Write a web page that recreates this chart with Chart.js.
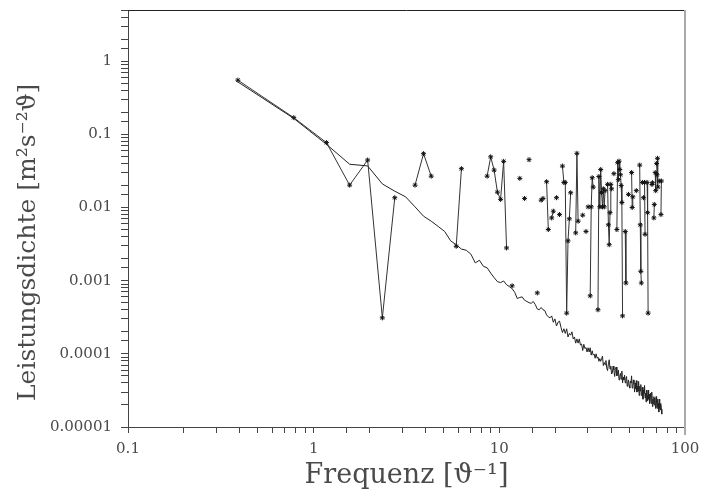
<!DOCTYPE html>
<html>
<head>
<meta charset="utf-8">
<script src="https://cdn.jsdelivr.net/npm/chart.js@4/dist/chart.umd.min.js"></script>
<style>
  html, body { margin: 0; padding: 0; background: #fff; }
  #wrap { width: 701px; height: 496px; }
</style>
</head>
<body>
<div id="wrap"><canvas id="spectrum"></canvas></div>
<script>
// frequency step of the spectrum (1/2.56)
const df = 0.390625;

// averaged spectrum (smooth line)
const spectrumMean = [
  0.52, 0.165, 0.073, 0.039, 0.037, 0.021, 0.0167, 0.014, 0.0102, 0.0076,
  0.0065, 0.0055, 0.0047, 0.0035, 0.0031, 0.0027, 0.0026, 0.0023, 0.00175, 0.0019,
  0.00157, 0.0015, 0.00127, 0.0011, 0.00097, 0.00094, 0.00099, 0.00088, 0.00083, 0.00078,
  0.00069, 0.00057, 0.00059, 0.0006, 0.00054, 0.00052, 0.0005, 0.00049, 0.00052, 0.00047,
  0.00041, 0.0004, 0.00043, 0.0004, 0.00039, 0.00034, 0.00032, 3.1e-4, 3.3e-4, 2.7e-4,
  3.0e-4, 2.4e-4, 2.7e-4, 2.8e-4, 2.3e-4, 1.95e-4, 2.2e-4, 1.9e-4, 2.2e-4, 1.7e-4,
  1.9e-4, 1.8e-4, 2.0e-4, 1.6e-4, 1.7e-4, 1.4e-4, 1.6e-4, 1.4e-4, 1.6e-4, 1.32e-4,
  1.36e-4, 1.11e-4, 1.35e-4, 1.18e-4, 1.22e-4, 1.06e-4, 1.21e-4, 1.06e-4, 1.21e-4, 9.6e-5,
  1.1e-4, 9.6e-5, 9.9e-5, 8.7e-5, 1.0e-4, 8.8e-5, 9.0e-5, 7.9e-5, 8.6e-5, 7.9e-5,
  8.6e-5, 9.3e-5, 6.9e-5, 7.6e-5, 7.1e-5, 8.1e-5, 6.4e-5, 5.9e-5, 7.3e-5, 8.3e-5,
  6.2e-5, 6.8e-5, 5.3e-5, 5.5e-5, 6.8e-5, 6.0e-5, 4.9e-5, 6.1e-5, 6.6e-5, 5.0e-5,
  5.2e-5, 6.0e-5, 4.4e-5, 4.9e-5, 5.4e-5, 4.5e-5, 5.8e-5, 4.0e-5, 4.8e-5, 4.4e-5,
  5.1e-5, 4.0e-5, 4.5e-5, 4.9e-5, 3.6e-5, 4.0e-5, 4.4e-5, 3.7e-5, 3.4e-5, 4.2e-5,
  4.0e-5, 5.0e-5, 3.4e-5, 3.6e-5, 4.4e-5, 3.9e-5, 3.0e-5, 4.0e-5, 3.3e-5, 4.3e-5,
  3.0e-5, 3.6e-5, 3.1e-5, 4.2e-5, 2.7e-5, 3.6e-5, 3.1e-5, 3.8e-5, 2.7e-5, 2.8e-5,
  3.5e-5, 2.4e-5, 3.2e-5, 2.9e-5, 3.7e-5, 2.5e-5, 2.9e-5, 2.2e-5, 3.2e-5, 2.7e-5,
  2.3e-5, 3.2e-5, 2.4e-5, 2.8e-5, 2.1e-5, 2.6e-5, 2.9e-5, 2.1e-5, 2.4e-5, 3.0e-5,
  1.9e-5, 2.4e-5, 2.1e-5, 2.6e-5, 2.0e-5, 2.5e-5, 2.0e-5, 1.8e-5, 2.6e-5, 2.1e-5,
  1.8e-5, 2.4e-5, 1.9e-5, 2.1e-5, 1.6e-5, 2.4e-5, 1.8e-5, 2.0e-5, 1.7e-5, 2.1e-5,
  1.75e-5, 1.5e-5
];

// single spectrum with gaps (star markers)
const spectrumObs = [
  0.55, 0.169, 0.077, 0.0202, 0.0445, 0.00031, 0.0136, null, 0.0202, 0.0544,
  0.0268, null, null, null, 0.00295, 0.0339, null, null, null, null,
  null, 0.0268, 0.0492, 0.0324, 0.0162, 0.0129, 0.0427, 0.0028, null, 0.00085,
  null, null, 0.025, null, 0.0133, null, 0.045, null, null, null,
  0.00068, null, 0.0126, 0.0133, null, 0.0225, 0.005, null, 0.0072, 0.0089,
  null, 0.0136, null, 0.008, null, 0.0368, 0.022, 0.022, 0.00036, 0.0035,
  0.007, 0.0159, null, null, null, 0.0045, 0.055, 0.0065, null, null,
  null, 0.00785, null, null, 0.0047, null, 0.0102, null, 0.00062, 0.0102,
  0.0255, 0.019, null, null, null, null, 0.0004, 0.0265, 0.0102, 0.033,
  0.016, 0.0102, 0.018, 0.0102, 0.017, null, null, 0.0207, 0.0058, 0.0031,
  0.0085, 0.0207, 0.018, null, null, 0.029, null, null, null, 0.005,
  0.041, 0.024, 0.043, 0.033, 0.028, 0.02, 0.0117, 0.00033, null, null,
  null, 0.0047, 0.00093, null, null, null, 0.0151, null, null, null,
  null, 0.030, 0.010, 0.014, null, null, null, null, null, 0.017,
  null, null, null, null, null, 0.038, 0.0058, 0.00134, 0.00093, null,
  0.022, null, 0.0136, null, 0.022, 0.0043, null, null, null, 0.022,
  0.0085, 0.00036, null, null, null, null, null, null, null, 0.0206,
  0.0218, null, null, 0.0072, 0.011, null, 0.030, 0.017, null, 0.040,
  0.028, 0.047, 0.019, null, null, 0.023, null, null, null, 0.008,
  0.023, null
];

const freq = spectrumMean.map((_, i) => (i + 1) * df);

const font = "'DejaVu Serif', 'Liberation Serif', serif";
const textColor = '#4a4a4a';

// label only the decades
function decadeLabel(v) {
  const e = Math.round(Math.log10(v));
  if (Math.abs(v / Math.pow(10, e) - 1) > 1e-6) return '';
  return e >= 0 ? String(Math.pow(10, e)) : Math.pow(10, e).toFixed(-e);
}

// top and right frame of the plot box
const frame = {
  id: 'frame',
  afterDraw(chart) {
    const { ctx, chartArea: a } = chart;
    ctx.save();
    ctx.strokeStyle = '#222';
    ctx.lineWidth = 1;
    ctx.beginPath();
    ctx.moveTo(a.left, a.top + 0.5);
    ctx.lineTo(a.right, a.top + 0.5);
    ctx.stroke();
    ctx.strokeStyle = '#aaa';
    ctx.lineWidth = 2;
    ctx.beginPath();
    ctx.moveTo(a.right, a.top);
    ctx.lineTo(a.right, a.bottom + 8);
    ctx.stroke();
    ctx.restore();
  }
};

const spectrumCanvas = document.querySelector('#spectrum');

new Chart(spectrumCanvas.getContext('2d'), {
  type: 'line',
  data: {
    labels: freq,
    datasets: [
      {
        label: 'Mittel',
        data: spectrumMean,
        borderColor: '#222',
        borderWidth: 1,
        pointRadius: 0,
        tension: 0
      },
      {
        label: 'Einzel',
        data: spectrumObs,
        borderColor: '#333',
        borderWidth: 1,
        pointStyle: 'star',
        pointRadius: 2.5,
        pointBorderColor: '#111',
        pointBorderWidth: 1,
        tension: 0,
        spanGaps: false
      }
    ]
  },
  options: {
    responsive: true,
    maintainAspectRatio: false,
    animation: false,
    events: [],
    layout: { padding: { top: 10, right: 16, left: 0, bottom: 0 } },
    plugins: {
      legend: { display: false },
      tooltip: { enabled: false }
    },
    scales: {
      x: {
        type: 'logarithmic',
        min: 0.1,
        max: 100,
        afterFit(scale) {
          scale.height = 69;
          scale.paddingLeft = 0;
          scale.paddingRight = 0;
        },
        grid: { drawOnChartArea: false, drawTicks: true, tickLength: 6, color: '#444' },
        border: { display: true, color: '#444' },
        ticks: {
          autoSkip: false,
          maxRotation: 0,
          padding: 7,
          color: textColor,
          font: { family: font, size: 15 },
          callback: v => decadeLabel(v)
        },
        title: {
          display: true,
          text: 'Frequenz [ϑ⁻¹]',
          color: textColor,
          font: { family: font, size: 27 },
          padding: { top: 0, bottom: 4 }
        }
      },
      y: {
        type: 'logarithmic',
        min: 0.00001,
        max: 5,
        afterFit(scale) {
          scale.width = 128;
          scale.paddingTop = 0;
          scale.paddingBottom = 0;
        },
        grid: { drawOnChartArea: false, drawTicks: true, tickLength: 7, color: '#444' },
        border: { display: true, color: '#444' },
        ticks: {
          autoSkip: false,
          padding: 9,
          color: textColor,
          font: { family: font, size: 15 },
          callback: v => decadeLabel(v)
        },
        title: {
          display: true,
          // trailing spaces push the rotated title down a little, as in the original
          text: 'Leistungsdichte [m²s⁻²ϑ]      ',
          color: textColor,
          font: { family: font, size: 25 },
          padding: { top: 13, bottom: 0 }
        }
      }
    }
  },
  plugins: [frame]
});
</script>
</body>
</html>
